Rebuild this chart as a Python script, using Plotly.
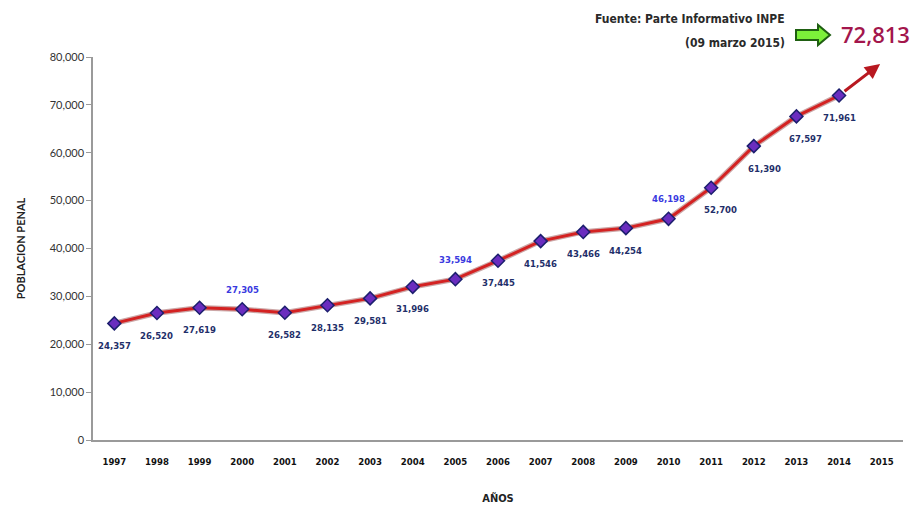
import plotly.graph_objects as go

YEARS = ["1997", "1998", "1999", "2000", "2001", "2002", "2003", "2004", "2005",
         "2006", "2007", "2008", "2009", "2010", "2011", "2012", "2013", "2014", "2015"]
DATA_YEARS = YEARS[:18]
POBLACION = [24357, 26520, 27619, 27305, 26582, 28135, 29581, 31996, 33594,
             37445, 41546, 43466, 44254, 46198, 52700, 61390, 67597, 71961]
LABEL_ABOVE = ["2000", "2005", "2010"]
PROYECCION_2015 = 78800
FUENTE_VALOR = "72,813"
Y_TICKS = [0, 10000, 20000, 30000, 40000, 50000, 60000, 70000, 80000]

NARROW = "DejaVu Sans Condensed, Liberation Sans Narrow, sans-serif"
LABEL_XSHIFT = {"2011": 9, "2012": 11, "2013": 9}

fig = go.Figure()
# shadow line
fig.add_trace(go.Scatter(
    x=DATA_YEARS, y=POBLACION, mode="lines",
    line=dict(color="rgba(110,0,0,0.35)", width=5.5), hoverinfo="skip", showlegend=False))
fig.add_trace(go.Scatter(
    x=DATA_YEARS, y=POBLACION, mode="lines+markers",
    line=dict(color="#d42222", width=3),
    marker=dict(symbol="diamond", size=10, color="#6a2dbf",
                line=dict(color="#1c1f6e", width=1.5)),
    cliponaxis=False, showlegend=False, hoverinfo="skip"))

# data labels (category axis: position by category index)
for i, (yr, v) in enumerate(zip(DATA_YEARS, POBLACION)):
    above = yr in LABEL_ABOVE
    fig.add_annotation(x=i, y=v, xref="x", yref="y", text=f"<b>{v:,}</b>",
                       showarrow=False, yshift=20 if above else -22,
                       xshift=LABEL_XSHIFT.get(yr, 0),
                       font=dict(family=NARROW, size=9.5,
                                 color="#3a3adf" if above else "#1f2f6a"))

# projection arrow from 2014 towards 2015
fig.add_annotation(x=YEARS.index("2015"), y=PROYECCION_2015,
                   ax=YEARS.index("2014"), ay=POBLACION[-1],
                   xref="x", yref="y", axref="x", ayref="y", text="",
                   showarrow=True, arrowhead=2, arrowsize=1.0, arrowwidth=3,
                   arrowcolor="#b81820", standoff=2, startstandoff=5)

# helpers: screen pixels -> paper coords (plot area 93..903 x, 57..440 y)
def px(xp):
    return (xp - 93) / (903 - 93)

def py(yp):
    return (440 - yp) / (440 - 57)

fig.add_annotation(x=px(787), y=py(19), xref="paper", yref="paper",
                   text="<b>Fuente: Parte Informativo INPE</b>", showarrow=False,
                   xanchor="right", yanchor="middle",
                   font=dict(family=NARROW, size=12, color="#2a2a2a"))
fig.add_annotation(x=px(787), y=py(43), xref="paper", yref="paper",
                   text="<b>(09 marzo 2015)</b>", showarrow=False,
                   xanchor="right", yanchor="middle",
                   font=dict(family=NARROW, size=12, color="#2a2a2a"))
fig.add_annotation(x=px(912), y=py(34), xref="paper", yref="paper",
                   text=FUENTE_VALOR, showarrow=False,
                   xanchor="right", yanchor="middle",
                   font=dict(family="Open Sans, Noto Sans, sans-serif", size=22,
                             color="#a3164c", weight=600))

# green block arrow
x0, x1, xm = px(796), px(830), px(818)
yc = py(35)
h1 = 5 / 383
h2 = 10 / 383
path = (f"M {x0},{yc+h1} L {xm},{yc+h1} L {xm},{yc+h2} L {x1},{yc} "
        f"L {xm},{yc-h2} L {xm},{yc-h1} L {x0},{yc-h1} Z")
fig.add_shape(type="path", path=path, xref="paper", yref="paper",
              fillcolor="#7cf03a", line=dict(color="#1f5f12", width=2))

fig.update_layout(
    width=914, height=510,
    margin=dict(l=93, r=11, t=57, b=70),
    paper_bgcolor="white", plot_bgcolor="white",
    hovermode=False,
    xaxis=dict(type="category", categoryorder="array", categoryarray=YEARS,
               tickvals=YEARS, ticktext=YEARS, range=[-0.5, 18.5],
               showgrid=False, showline=True, linecolor="#9a9a9a", linewidth=2,
               ticks="", ticklabelstandoff=12, automargin=False,
               tickfont=dict(family=NARROW, size=9.5, color="#111111", weight="bold"),
               title=dict(text="<b>AÑOS</b>", standoff=28,
                          font=dict(family=NARROW, size=11, color="#222222"))),
    yaxis=dict(range=[0, 80000], tickvals=Y_TICKS,
               ticktext=[f"{v:,}" for v in Y_TICKS],
               showgrid=False, zeroline=False, showline=True, linecolor="#9a9a9a",
               linewidth=1.5, ticks="outside", ticklen=5, tickcolor="#9a9a9a",
               tickfont=dict(family="Lato, Noto Sans, sans-serif", size=11, color="#333333"),
               title=dict(text="<b>POBLACION PENAL</b>", standoff=22,
                          font=dict(family="Lato, Noto Sans, sans-serif", size=11, color="#222222"))),
)

fig.write_html("out.html", config={"displayModeBar": False},
               post_script="document.body.style.margin='0';document.body.style.overflow='hidden';")
